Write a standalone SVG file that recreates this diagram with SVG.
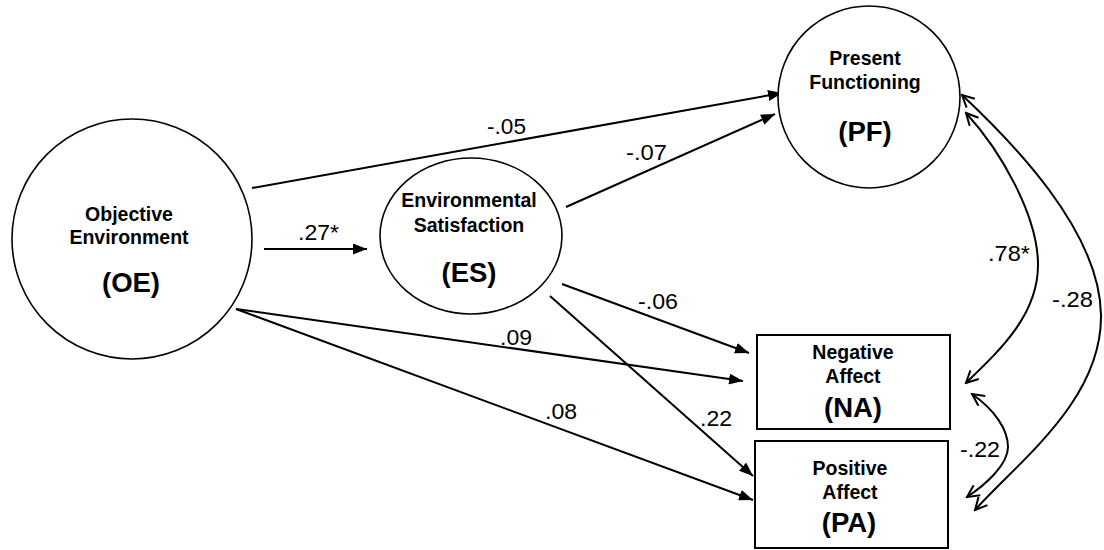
<svg xmlns="http://www.w3.org/2000/svg" width="1104" height="550" viewBox="0 0 1104 550">
  <style>
    .node { fill: #fff; stroke: #000; stroke-width: 1.6; }
    .box { fill: #fff; stroke: #000; stroke-width: 2; }
    .name { font-family: "Liberation Sans", Arial, sans-serif; font-weight: bold; font-size: 19.5px; text-anchor: middle; fill: #000; }
    .abbr { font-family: "Liberation Sans", Arial, sans-serif; font-weight: bold; font-size: 27.5px; text-anchor: middle; fill: #000; }
    .coef { font-family: "Liberation Sans", Arial, sans-serif; font-size: 22px; fill: #000; }
    .path { fill: none; stroke: #000; stroke-width: 2; }
    .path.direct { marker-end: url(#solid); }
    .path.covar { marker-start: url(#open); marker-end: url(#open); }
  </style>
  <defs>
    <marker id="solid" markerUnits="userSpaceOnUse" markerWidth="15" markerHeight="11" refX="14" refY="5.5" orient="auto">
      <path d="M0,0 L14,5.5 L0,11 z" fill="#000"/>
    </marker>
    <marker id="open" markerUnits="userSpaceOnUse" markerWidth="16" markerHeight="14" refX="14" refY="7" orient="auto-start-reverse">
      <path d="M2,1 L14,7 L2,13" fill="none" stroke="#000" stroke-width="2"/>
    </marker>
  </defs>

  <rect width="1104" height="550" fill="#fff"/>

  <!-- structural paths and covariances -->
  <g id="connectors">
    <line class="path direct" x1="252" y1="188" x2="782" y2="93"/>
    <line class="path direct" x1="264" y1="249" x2="367" y2="249"/>
    <line class="path direct" x1="566" y1="207" x2="775" y2="114"/>
    <line class="path direct" x1="562" y1="284" x2="749" y2="353"/>
    <line class="path direct" x1="550" y1="296" x2="753" y2="476"/>
    <line class="path direct" x1="236" y1="309" x2="743" y2="381"/>
    <line class="path direct" x1="236" y1="309" x2="753" y2="500"/>
    <path class="path covar" d="M966,113 C1000,150 1038,215 1038,265 C1038,315 1000,350 966,383"/>
    <path class="path covar" d="M962,95 C1010,140 1100,230 1101,315 C1102,400 1020,460 975,510"/>
    <path class="path covar" d="M972,394 C995,410 1008,430 1008,447 C1008,465 985,485 967,497"/>

    <text class="coef" x="487" y="134" textLength="39" lengthAdjust="spacingAndGlyphs">-.05</text>
    <text class="coef" x="298" y="240" textLength="41" lengthAdjust="spacingAndGlyphs">.27*</text>
    <text class="coef" x="626" y="160" textLength="41" lengthAdjust="spacingAndGlyphs">-.07</text>
    <text class="coef" x="638" y="309" textLength="40" lengthAdjust="spacingAndGlyphs">-.06</text>
    <text class="coef" x="500" y="345" textLength="32" lengthAdjust="spacingAndGlyphs">.09</text>
    <text class="coef" x="545" y="419" textLength="32" lengthAdjust="spacingAndGlyphs">.08</text>
    <text class="coef" x="700" y="426" textLength="32" lengthAdjust="spacingAndGlyphs">.22</text>
    <text class="coef" x="988" y="261" textLength="42" lengthAdjust="spacingAndGlyphs">.78*</text>
    <text class="coef" x="1052" y="307" textLength="41" lengthAdjust="spacingAndGlyphs">-.28</text>
    <text class="coef" x="960" y="457" textLength="40" lengthAdjust="spacingAndGlyphs">-.22</text>
  </g>

  <g id="node-oe">
    <circle class="node" cx="132" cy="239" r="120"/>
    <text class="name" x="129" y="221">Objective</text>
    <text class="name" x="129" y="244">Environment</text>
    <text class="abbr" x="131" y="292">(OE)</text>
  </g>

  <g id="node-es">
    <ellipse class="node" cx="471" cy="236" rx="91" ry="78"/>
    <text class="name" x="469" y="207">Environmental</text>
    <text class="name" x="469" y="232">Satisfaction</text>
    <text class="abbr" x="469" y="282">(ES)</text>
  </g>

  <g id="node-pf">
    <circle class="node" cx="869" cy="97" r="91"/>
    <text class="name" x="865" y="65">Present</text>
    <text class="name" x="865" y="89">Functioning</text>
    <text class="abbr" x="865" y="141">(PF)</text>
  </g>

  <g id="node-na">
    <rect class="box" x="757" y="335" width="193" height="94"/>
    <text class="name" x="853" y="359">Negative</text>
    <text class="name" x="853" y="383">Affect</text>
    <text class="abbr" x="853" y="417">(NA)</text>
  </g>

  <g id="node-pa">
    <rect class="box" x="755" y="441" width="193" height="107"/>
    <text class="name" x="850" y="475">Positive</text>
    <text class="name" x="850" y="499">Affect</text>
    <text class="abbr" x="849" y="532">(PA)</text>
  </g>
</svg>
